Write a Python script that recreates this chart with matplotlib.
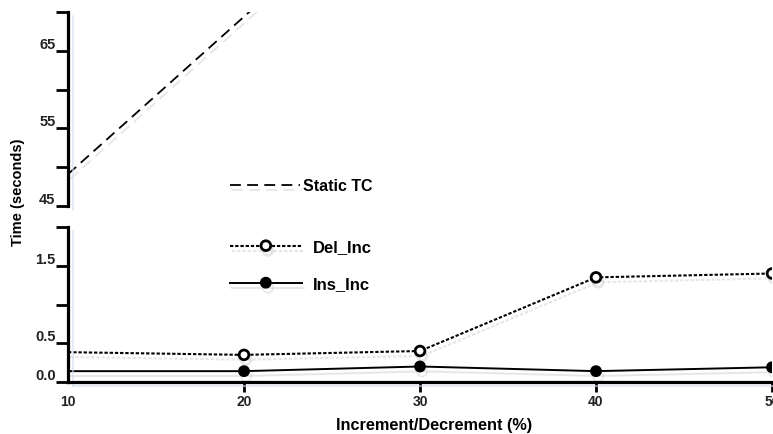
import matplotlib
matplotlib.use("Agg")
import matplotlib.pyplot as plt
import matplotlib.patheffects as pe
from matplotlib.ticker import FixedLocator, FixedFormatter

plt.rcParams.update({
    "font.family": ["Liberation Sans", "DejaVu Sans"],
    "font.weight": "bold",
    "axes.labelweight": "bold",
})

# data
pct = [10, 20, 30, 40, 50]
static_tc = [49.1, 69.4, 89.5, 110.0, 131.0]   # leaves the top panel after 20%
del_inc = [0.385, 0.35, 0.40, 1.35, 1.40]
ins_inc = [0.14, 0.14, 0.20, 0.14, 0.19]

top_ticks = [45, 50, 55, 60, 65, 70]
top_labels = ["45", "", "55", "", "65", ""]
bot_ticks = [0.0, 0.5, 1.0, 1.5, 2.0]
bot_labels = ["0.0", "0.5", "", "1.5", ""]

LINE_SHADOW = [pe.SimpleLineShadow(offset=(1.5, -3.5), shadow_color="#b9b9b9", alpha=0.35),
               pe.Normal()]
SPINE_SHADOW = [pe.SimpleLineShadow(offset=(3.5, -3.0), shadow_color="#d4dcf0", alpha=0.7, linewidth=1.2),
                pe.Normal()]

fig = plt.figure(figsize=(7.73, 4.35), dpi=100)
W = 773
H = 435
x0, x1 = 68 / W, 772 / W
ax_top = fig.add_axes([x0, (H - 207) / H, x1 - x0, (207 - 13) / H])
ax_bot = fig.add_axes([x0, (H - 383) / H, x1 - x0, (383 - 228) / H])


def style_axis(ax, ticks, labels, lim):
    ax.set_ylim(*lim)
    ax.set_xlim(pct[0], pct[-1])
    ax.yaxis.set_major_locator(FixedLocator(ticks))
    ax.yaxis.set_major_formatter(FixedFormatter(labels))
    ax.tick_params(axis="y", direction="out", length=9, width=2, pad=0,
                   labelsize=10.5, labelcolor="#222222")
    for lab in ax.get_yticklabels():
        lab.set_verticalalignment("bottom")
    for side in ("top", "right"):
        ax.spines[side].set_visible(False)
    for side in ("left", "bottom"):
        ax.spines[side].set_linewidth(2.3)
        ax.spines[side].set_path_effects(SPINE_SHADOW)
    ax.set_facecolor("none")


style_axis(ax_top, top_ticks, top_labels, (45, 70))
ax_top.spines["bottom"].set_visible(False)
ax_top.set_xticks([])

style_axis(ax_bot, bot_ticks, bot_labels, (0, 2.0))
ax_bot.set_xticks(pct)
ax_bot.tick_params(axis="x", direction="out", length=7, width=2, pad=2,
                   labelsize=10, labelcolor="#222222")
ax_bot.xaxis.get_major_ticks()[0].tick1line.set_visible(False)

# lines
ax_top.plot(pct, static_tc, color="black", lw=1.3, linestyle=(0, (6, 3.5)),
            label="Static TC", path_effects=LINE_SHADOW)

ax_bot.plot(pct, del_inc, color="black", lw=1.5, linestyle=(0, (1.6, 0.9)),
            marker="o", markersize=7, markerfacecolor="white", markeredgewidth=2,
            markevery=slice(1, None), label="Del_Inc", path_effects=LINE_SHADOW)
ax_bot.plot(pct, ins_inc, color="black", lw=1.4, linestyle="-",
            marker="o", markersize=7.5, markerfacecolor="black",
            markevery=slice(1, None), label="Ins_Inc", path_effects=LINE_SHADOW)

ax_top.legend(loc="center left", bbox_to_anchor=(230 / W, 1 - 187 / H),
              bbox_transform=fig.transFigure, frameon=False, fontsize=11.5,
              borderpad=0, borderaxespad=0, handlelength=4.4, handletextpad=0.19)
ax_bot.legend(loc="center left", bbox_to_anchor=(230 / W, 1 - 266.5 / H),
              bbox_transform=fig.transFigure, frameon=False, fontsize=12,
              borderpad=0, borderaxespad=0, handlelength=4.3, handletextpad=0.66,
              labelspacing=1.32, numpoints=1)

ax_bot.set_xlabel("Increment/Decrement (%)", fontsize=11.7)
ax_bot.xaxis.set_label_coords(0.52, -0.226)
fig.text(18 / W, 1 - 192 / H, "Time (seconds)", rotation=90, ha="center",
         va="center", fontsize=10.5, fontweight="bold")

fig.savefig("out.png", dpi=100)
